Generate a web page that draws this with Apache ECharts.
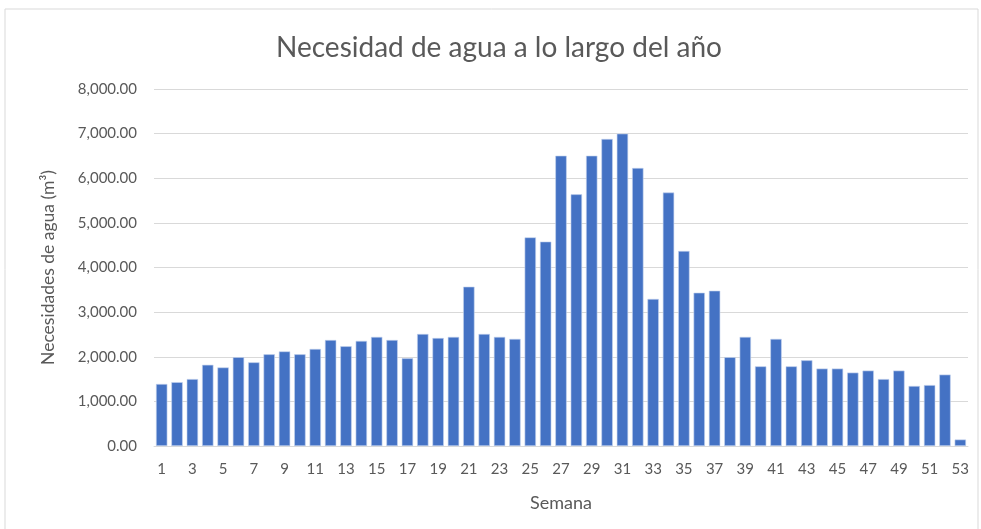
<!DOCTYPE html>
<html><head><meta charset="utf-8">
<script src="https://cdn.jsdelivr.net/npm/echarts@6/dist/echarts.min.js"></script>
<style>html,body{margin:0;padding:0;background:#fff}#c{width:981px;height:529px}</style>
</head><body><div id="c"></div>
<script>
const weeks = [];
for (let i = 1; i <= 53; i++) weeks.push(String(i));
const values = [1390,1430,1500,1820,1760,1990,1875,2055,2120,2055,2175,2375,2235,2355,2445,2375,1965,2510,2420,2445,3570,2510,2445,2400,4675,4580,6505,5640,6505,6880,7000,6230,3295,5680,4370,3435,3480,1990,2445,1785,2400,1785,1920,1735,1735,1645,1690,1500,1690,1345,1365,1600,145];
const titleText = "Necesidad de agua a lo largo del año";
const yName = "Necesidades de agua (m³)";
const xName = "Semana";
const fontFam = "Lato, 'Open Sans', sans-serif";
const chart = echarts.init(document.getElementById('c'), null, {renderer:'canvas'});
chart.setOption({
  animation:false,
  backgroundColor:'#fff',
  graphic:[{type:'rect',shape:{x:5,y:9,width:973,height:530},style:{fill:'none',stroke:'#d9d9d9',lineWidth:1}}],
  title:{text:titleText,left:271,top:29,textStyle:{fontFamily:fontFam,fontSize:28,fontWeight:'normal',color:'#595959'}},
  grid:{left:154,right:13,top:89,bottom:83,containLabel:false},
  xAxis:{type:'category',data:weeks,name:xName,nameLocation:'middle',nameGap:48,
    nameTextStyle:{fontFamily:fontFam,fontSize:18,color:'#595959'},
    axisLine:{lineStyle:{color:'#d9d9d9',width:1}},axisTick:{show:false},
    axisLabel:{interval:1,fontFamily:fontFam,fontSize:15,color:'#595959',margin:16}},
  yAxis:{type:'value',min:0,max:8000,interval:1000,name:yName,nameLocation:'middle',nameGap:97,
    nameTextStyle:{fontFamily:fontFam,fontSize:17.5,color:'#595959'},
    axisLine:{show:false},axisTick:{show:false},
    splitLine:{lineStyle:{color:'#d9d9d9',width:1}},
    axisLabel:{fontFamily:fontFam,fontSize:15,color:'#595959',margin:17,
      formatter:v=>v.toLocaleString('en-US',{minimumFractionDigits:2,maximumFractionDigits:2})}},
  series:[{type:'bar',data:values,barCategoryGap:'26%',
    itemStyle:{color:'#4472C4',borderColor:'#c5d3ee',borderWidth:0.6}}]
});
</script></body></html>
